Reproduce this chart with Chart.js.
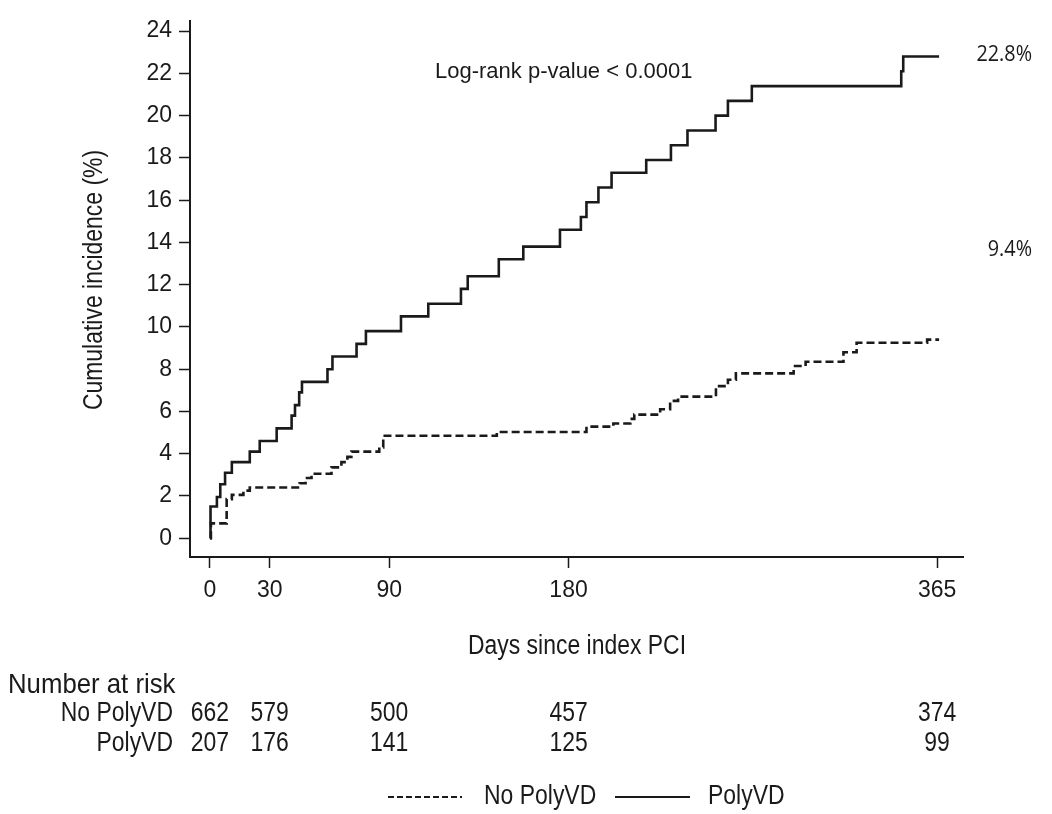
<!DOCTYPE html>
<html>
<head>
<meta charset="utf-8">
<script src="https://cdn.jsdelivr.net/npm/chart.js@4"></script>
<style>
  html, body { margin: 0; padding: 0; background: #fff; }
  canvas { display: block; }
</style>
</head>
<body>
<canvas id="chart" width="1052" height="814"></canvas>
<script>
// Curvas de incidencia acumulada (días desde la ICP, % acumulado)
const polyDays = [0, 0.3, 3.5, 5.2, 7.6, 11, 20, 25, 33.5, 41, 42.7, 44.8, 46.2, 59, 61.5, 73.6, 78.3, 95.9, 109.6, 126, 129.4, 145, 157.3, 175.7, 186.2, 189, 195, 201.6, 219, 231.4, 239.7, 253.8, 260, 272, 347, 348, 366];
const polyInc  = [0, 1.5, 1.95, 2.55, 3.1, 3.6, 4.1, 4.6, 5.2, 5.8, 6.3, 6.9, 7.4, 8.0, 8.6, 9.2, 9.8, 10.5, 11.1, 11.8, 12.4, 13.2, 13.8, 14.6, 15.2, 15.9, 16.6, 17.3, 17.9, 18.6, 19.3, 20.0, 20.7, 21.4, 22.1, 22.8, 22.8];

const noPolyDays = [0, 0.5, 8.4, 11, 16.8, 20, 45, 48, 51, 61, 66, 69, 71, 85, 87, 144, 189, 202.5, 211, 213, 226, 231, 235, 254, 260, 264, 293, 299, 318, 324.6, 360, 366];
const noPolyInc  = [0, 0.7, 1.85, 2.05, 2.25, 2.4, 2.6, 2.85, 3.05, 3.35, 3.6, 3.85, 4.1, 4.3, 4.85, 5.03, 5.28, 5.43, 5.65, 5.85, 6.1, 6.5, 6.7, 7.2, 7.5, 7.8, 8.15, 8.35, 8.8, 9.25, 9.4, 9.4];

// Ejes
const xTicks = [0, 30, 90, 180, 365];
const yTicks = [0, 2, 4, 6, 8, 10, 12, 14, 16, 18, 20, 22, 24];

// Tabla de pacientes en riesgo
const riskDays = [0, 30, 90, 180, 365];
const riskNoPoly = [662, 579, 500, 457, 374];
const riskPoly = [207, 176, 141, 125, 99];

const endLabels = ['9.4%', '22.8%'];
const pValueText = 'Log-rank p-value < 0.0001';

const INK = '#1a1a1a';
const SANS = '"Liberation Sans", Arial, sans-serif';

const toPoints = (days, vals) => days.map((d, i) => ({ x: d, y: vals[i] }));

// Texto estrecho: fuente más alta comprimida en horizontal
function narrowText(ctx, text, x, y, align, size, squeeze) {
    ctx.save();
    ctx.translate(x, y);
    ctx.scale(squeeze, 1);
    ctx.textAlign = align;
    ctx.font = size + 'px ' + SANS;
    ctx.fillText(text, 0, 0);
    ctx.restore();
}

// Textos extra: tabla de riesgo, leyenda, anotaciones
const extrasPlugin = {
    id: 'extras',
    afterDraw(chart) {
        const ctx = chart.ctx;
        const xs = chart.scales.x;
        ctx.save();
        ctx.fillStyle = INK;
        ctx.textBaseline = 'middle';

        // título eje Y
        ctx.save();
        ctx.translate(95, 280);
        ctx.rotate(-Math.PI / 2);
        narrowText(ctx, 'Cumulative incidence (%)', 0, 0, 'center', 27, 0.85);
        ctx.restore();

        // título eje X
        narrowText(ctx, 'Days since index PCI', 577, 647, 'center', 27, 0.85);

        // p-valor
        ctx.textAlign = 'left';
        ctx.font = '22px ' + SANS;
        ctx.fillText(pValueText, 435, 72);

        // porcentajes finales
        ctx.save();
        ctx.font = '22px "Open Sans", sans-serif';
        ctx.textAlign = 'right';
        ctx.translate(1032, 0);
        ctx.scale(0.9, 1);
        ctx.fillText(endLabels[1], 0, 55);
        ctx.fillText(endLabels[0], 0, 250);
        ctx.restore();

        // tabla de riesgo
        narrowText(ctx, 'Number at risk', 8, 685, 'left', 28, 0.92);
        narrowText(ctx, 'No PolyVD', 173, 714, 'right', 27, 0.85);
        narrowText(ctx, 'PolyVD', 173, 744, 'right', 27, 0.85);
        riskDays.forEach((d, i) => {
            const px = xs.getPixelForValue(d);
            narrowText(ctx, String(riskNoPoly[i]), px, 714, 'center', 27, 0.85);
            narrowText(ctx, String(riskPoly[i]), px, 744, 'center', 27, 0.85);
        });

        // leyenda
        const legendY = 797;
        ctx.strokeStyle = INK;
        ctx.lineWidth = 2;
        ctx.setLineDash([6, 3]);
        ctx.beginPath();
        ctx.moveTo(388, legendY);
        ctx.lineTo(462, legendY);
        ctx.stroke();
        ctx.setLineDash([]);
        ctx.beginPath();
        ctx.moveTo(615, legendY);
        ctx.lineTo(690, legendY);
        ctx.stroke();
        narrowText(ctx, chart.data.datasets[0].label, 484, legendY, 'left', 27, 0.85);
        narrowText(ctx, chart.data.datasets[1].label, 708, legendY, 'left', 27, 0.85);

        ctx.restore();
    }
};

const chart = new Chart(document.getElementById('chart'), {
    type: 'line',
    data: {
        datasets: [
            {
                label: 'No PolyVD',
                data: toPoints(noPolyDays, noPolyInc),
                stepped: 'before',
                borderColor: INK,
                borderWidth: 2.6,
                borderDash: [8, 4],
                pointRadius: 0,
                fill: false
            },
            {
                label: 'PolyVD',
                data: toPoints(polyDays, polyInc),
                stepped: 'before',
                borderColor: INK,
                borderWidth: 2.6,
                pointRadius: 0,
                fill: false
            }
        ]
    },
    options: {
        responsive: false,
        animation: false,
        events: [],
        layout: { padding: { top: 14, right: 89, left: 0, bottom: 0 } },
        plugins: {
            legend: { display: false },
            tooltip: { enabled: false }
        },
        scales: {
            x: {
                type: 'linear',
                min: -10,
                max: 378,
                afterBuildTicks: s => { s.ticks = xTicks.map(v => ({ value: v })); },
                afterFit: s => { s.height = 257; },
                grid: { drawOnChartArea: false, drawTicks: true, tickLength: 11, tickColor: INK, tickWidth: 1.5 },
                border: { display: true, color: INK, width: 2 },
                ticks: { color: INK, font: { family: SANS, size: 23 }, padding: 9, maxRotation: 0, autoSkip: false }
            },
            y: {
                type: 'linear',
                min: -0.89,
                max: 24.49,
                afterBuildTicks: s => { s.ticks = yTicks.map(v => ({ value: v })); },
                afterFit: s => { s.width = 190; },
                grid: { drawOnChartArea: false, drawTicks: true, tickLength: 11, tickColor: INK, tickWidth: 1.5 },
                border: { display: true, color: INK, width: 2 },
                ticks: { color: INK, font: { family: SANS, size: 23 }, padding: 7 }
            }
        }
    },
    plugins: [extrasPlugin]
});
</script>
</body>
</html>
